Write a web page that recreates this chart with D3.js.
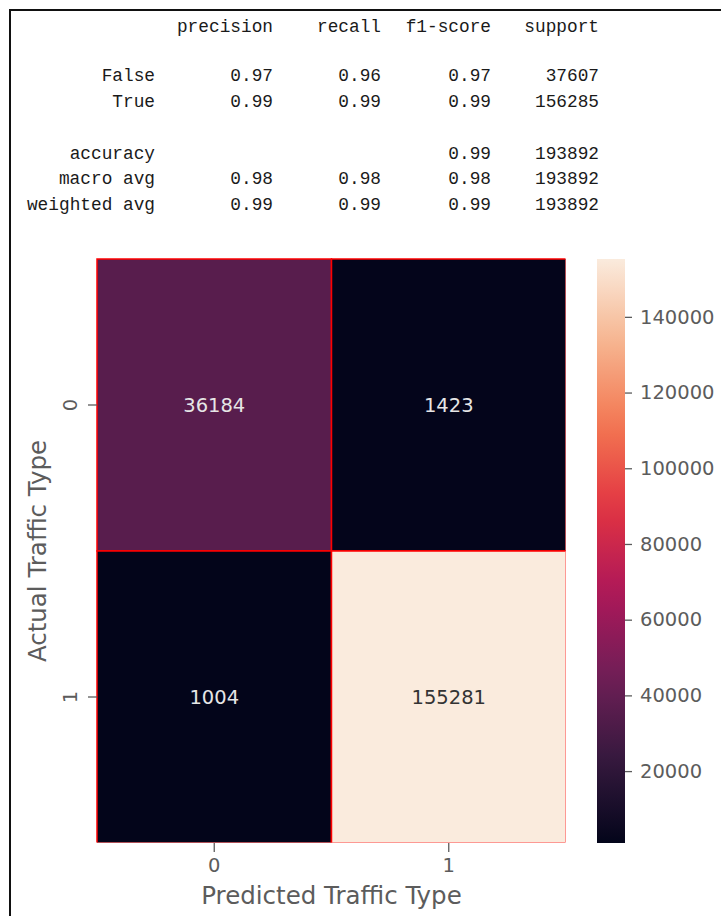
<!DOCTYPE html>
<html>
<head>
<meta charset="utf-8">
<script src="https://cdn.jsdelivr.net/npm/d3@7"></script>
<style>
  body { margin: 0; background: #fff; }
  svg { display: block; }
</style>
</head>
<body>
<svg id="chart" width="721" height="916"></svg>
<script>
// classification report (text block above the heatmap)
var reportCols = ["precision", "recall", "f1-score", "support"];
var reportRows = ["False", "True", "", "accuracy", "macro avg", "weighted avg"];
var precisionVals = ["0.97", "0.99", null, "", "0.98", "0.99"];
var recallVals = ["0.96", "0.99", null, "", "0.98", "0.99"];
var f1Vals = ["0.97", "0.99", null, "0.99", "0.98", "0.99"];
var supportVals = ["37607", "156285", null, "193892", "193892", "193892"];

// confusion matrix
var classes = ["0", "1"];
var matrix = [[36184, 1423], [1004, 155281]];
var cbarTicks = [20000, 40000, 60000, 80000, 100000, 120000, 140000];

// seaborn "rocket" approximated by stops
var rocket = ["#03051a", "#35193e", "#701f57", "#ad1759", "#e13342", "#f37651", "#f6b48f", "#faebdd"];

var svg = d3.select("#chart");

// frame of the screenshot
svg.append("line").attr("x1", 9).attr("x2", 721).attr("y1", 10).attr("y2", 10)
    .attr("stroke", "#111").attr("stroke-width", 2);
svg.append("line").attr("x1", 10).attr("x2", 10).attr("y1", 9).attr("y2", 916)
    .attr("stroke", "#111").attr("stroke-width", 2);

// ---- report text ----
var colRight = [273, 381, 491, 599];
var rowY = d3.scaleLinear().domain([0, 1]).range([81, 106.5]);
var rep = svg.append("g")
    .style("font-family", "'Liberation Mono', 'DejaVu Sans Mono', monospace")
    .style("font-size", "17.8px")
    .attr("fill", "#1a1a1a");

rep.selectAll(".hdr").data(reportCols).enter().append("text")
    .attr("x", function (d, i) { return colRight[i]; })
    .attr("y", 32)
    .attr("text-anchor", "end")
    .text(function (d) { return d; });

var rowData = reportRows.map(function (r, i) {
    return {label: r, vals: [precisionVals[i], recallVals[i], f1Vals[i], supportVals[i]], i: i};
});
// row slots: False 0, True 1, blank line, accuracy ...
var rowIdx = [0, 1, 2, 3.05, 4.05, 5.05];
var rows = rep.selectAll(".row").data(rowData.filter(function (d) { return d.label !== ""; }))
    .enter().append("g")
    .attr("transform", function (d) { return "translate(0," + rowY(rowIdx[d.i]) + ")"; });
rows.append("text").attr("x", 155).attr("text-anchor", "end").text(function (d) { return d.label; });
rows.selectAll(".v").data(function (d) { return d.vals; }).enter().append("text")
    .attr("x", function (d, i) { return colRight[i]; })
    .attr("text-anchor", "end")
    .text(function (d) { return d || ""; });

// ---- heatmap ----
var hmL = 97, hmT = 259, hmR = 566, hmB = 843;
var x = d3.scaleBand().domain(classes).range([hmL, hmR]);
var y = d3.scaleBand().domain(classes).range([hmT, hmB]);

var vmin = d3.min(matrix, function (r) { return d3.min(r); });
var vmax = d3.max(matrix, function (r) { return d3.max(r); });
var color = d3.scaleLinear()
    .domain(rocket.map(function (c, i) { return vmin + (vmax - vmin) * i / (rocket.length - 1); }))
    .range(rocket)
    .interpolate(d3.interpolateRgb);

var cells = [];
matrix.forEach(function (r, i) {
    r.forEach(function (v, j) { cells.push({row: classes[i], col: classes[j], v: v}); });
});

// right and bottom edge lines are cut off in the original
svg.append("clipPath").attr("id", "hmclip").append("rect")
    .attr("x", hmL - 1).attr("y", hmT - 1)
    .attr("width", hmR - hmL + 0.5).attr("height", hmB - hmT + 0.5);

var hm = svg.append("g").attr("clip-path", "url(#hmclip)");
hm.selectAll("rect").data(cells).enter().append("rect")
    .attr("x", function (d) { return x(d.col); })
    .attr("y", function (d) { return y(d.row); })
    .attr("width", x.bandwidth())
    .attr("height", y.bandwidth())
    .attr("fill", function (d) { return color(d.v); })
    .attr("stroke", "#f00")
    .attr("stroke-width", 1.5);

svg.append("g").selectAll("text").data(cells).enter().append("text")
    .attr("x", function (d) { return x(d.col) + x.bandwidth() / 2; })
    .attr("y", function (d) { return y(d.row) + y.bandwidth() / 2; })
    .attr("dy", "0.36em")
    .attr("text-anchor", "middle")
    .style("font-family", "'DejaVu Sans', sans-serif")
    .style("font-size", "19.5px")
    .attr("fill", function (d) { return (d.v - vmin) / (vmax - vmin) > 0.6 ? "#333" : "#e6e6e6"; })
    .text(function (d) { return d.v; });

// axes
var axisColor = "#5c5c5c";
var xAxis = svg.append("g").attr("transform", "translate(0," + hmB + ")")
    .call(d3.axisBottom(x).tickSize(9).tickPadding(6));
var yAxis = svg.append("g").attr("transform", "translate(" + hmL + ",0)")
    .call(d3.axisLeft(y).tickSize(9).tickPadding(6));
[xAxis, yAxis].forEach(function (a) {
    a.select(".domain").remove();
    a.selectAll("line").attr("stroke", axisColor).attr("stroke-width", 1.3);
    a.selectAll("text").attr("fill", axisColor)
        .style("font-family", "'DejaVu Sans', sans-serif").style("font-size", "19.5px");
});
// y tick labels are rotated like seaborn's
yAxis.selectAll(".tick text")
    .attr("x", 0).attr("y", 0).attr("dy", "0.36em")
    .attr("text-anchor", "middle")
    .attr("transform", "translate(-27,0) rotate(-90)");

svg.append("text")
    .attr("x", (hmL + hmR) / 2).attr("y", 904)
    .attr("text-anchor", "middle")
    .attr("fill", axisColor)
    .style("font-family", "'DejaVu Sans', sans-serif").style("font-size", "24.5px")
    .text("Predicted Traffic Type");

svg.append("text")
    .attr("transform", "translate(46," + (hmT + hmB) / 2 + ") rotate(-90)")
    .attr("text-anchor", "middle")
    .attr("fill", axisColor)
    .style("font-family", "'DejaVu Sans', sans-serif").style("font-size", "24.5px")
    .text("Actual Traffic Type");

// ---- colorbar ----
var cbX = 597, cbW = 28;
var cbScale = d3.scaleLinear().domain([vmin, vmax]).range([hmB, hmT]);
var grad = svg.append("defs").append("linearGradient").attr("id", "cbgrad")
    .attr("x1", 0).attr("x2", 0).attr("y1", 1).attr("y2", 0);
d3.range(0, 1.0001, 0.05).forEach(function (t) {
    grad.append("stop").attr("offset", t).attr("stop-color", color(vmin + t * (vmax - vmin)));
});
svg.append("rect").attr("x", cbX).attr("y", hmT).attr("width", cbW).attr("height", hmB - hmT)
    .attr("fill", "url(#cbgrad)");

var cAxis = svg.append("g").attr("transform", "translate(" + (cbX + cbW) + ",0)")
    .call(d3.axisRight(cbScale).tickValues(cbarTicks).tickSize(7).tickPadding(8).tickFormat(d3.format("d")));
cAxis.select(".domain").remove();
cAxis.selectAll("line").attr("stroke", axisColor).attr("stroke-width", 1.3);
cAxis.selectAll("text").attr("fill", axisColor)
    .style("font-family", "'DejaVu Sans', sans-serif").style("font-size", "19.5px");
</script>
</body>
</html>
